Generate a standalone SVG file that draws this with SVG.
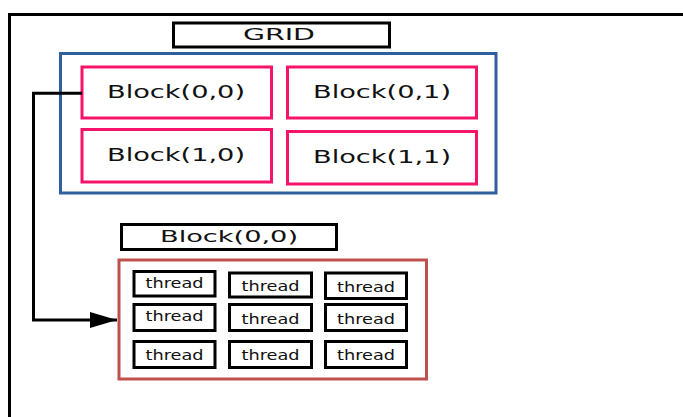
<svg xmlns="http://www.w3.org/2000/svg" width="683" height="417" viewBox="0 0 683 417">
<style>
.t{font-family:"DejaVu Sans","Liberation Sans",sans-serif;fill:#111;text-anchor:middle}
.blk{fill:#fff;stroke:#f5146a;stroke-width:3}
.thr{fill:#fff;stroke:#000;stroke-width:3}
.lbl{fill:#fff;stroke:#000;stroke-width:3}
</style>
<defs>
<marker id="arr" markerUnits="userSpaceOnUse" markerWidth="28" markerHeight="18" refX="27" refY="8" orient="auto">
<path d="M0,0 L27,8 L0,16 z" fill="#000"/>
</marker>
</defs>
<rect width="683" height="417" fill="#fff"/>
<path d="M9.5,417 V14.5 H683" fill="none" stroke="#000" stroke-width="3"/>
<g id="grid-label">
<rect class="lbl" x="173.5" y="23" width="216" height="24"/>
<text class="t" x="279" y="40" font-size="16" textLength="72" lengthAdjust="spacingAndGlyphs">GRID</text>
</g>
<g id="grid">
<rect x="60.5" y="53.5" width="435.5" height="139.5" fill="none" stroke="#2f5f9f" stroke-width="3"/>
</g>
<g id="block00">
<rect class="blk" x="82" y="67" width="189.5" height="51"/>
<text class="t" x="176" y="97.7" font-size="17" textLength="138" lengthAdjust="spacingAndGlyphs">Block(0,0)</text>
</g>
<g id="block01">
<rect class="blk" x="287.5" y="67" width="189" height="51"/>
<text class="t" x="382" y="97.7" font-size="17" textLength="138" lengthAdjust="spacingAndGlyphs">Block(0,1)</text>
</g>
<g id="block10">
<rect class="blk" x="82" y="129.5" width="189.5" height="52.5"/>
<text class="t" x="176" y="161" font-size="17" textLength="138" lengthAdjust="spacingAndGlyphs">Block(1,0)</text>
</g>
<g id="block11">
<rect class="blk" x="287.5" y="131.5" width="189" height="52.5"/>
<text class="t" x="382" y="163" font-size="17" textLength="138" lengthAdjust="spacingAndGlyphs">Block(1,1)</text>
</g>
<g id="block-label">
<rect class="lbl" x="121.5" y="224.5" width="215" height="25"/>
<text class="t" x="229" y="241.7" font-size="16" textLength="138" lengthAdjust="spacingAndGlyphs">Block(0,0)</text>
</g>
<g id="block-detail">
<rect x="119" y="260" width="307.5" height="119" fill="none" stroke="#c0504d" stroke-width="3"/>
</g>
<g id="threads">
<g id="t11"><rect class="thr" x="134" y="271.5" width="81" height="24.5"/><text class="t" x="174.5" y="288.3" font-size="13.5" textLength="58" lengthAdjust="spacingAndGlyphs">thread</text></g>
<g id="t12"><rect class="thr" x="229.5" y="273" width="82" height="24"/><text class="t" x="270.5" y="291" font-size="13.5" textLength="58" lengthAdjust="spacingAndGlyphs">thread</text></g>
<g id="t13"><rect class="thr" x="325.5" y="273" width="81" height="25.5"/><text class="t" x="366" y="292.3" font-size="13.5" textLength="58" lengthAdjust="spacingAndGlyphs">thread</text></g>
<g id="t21"><rect class="thr" x="134" y="304.5" width="81" height="26"/><text class="t" x="174.5" y="321" font-size="13.5" textLength="58" lengthAdjust="spacingAndGlyphs">thread</text></g>
<g id="t22"><rect class="thr" x="229.5" y="304.5" width="82" height="26"/><text class="t" x="270.5" y="324.3" font-size="13.5" textLength="58" lengthAdjust="spacingAndGlyphs">thread</text></g>
<g id="t23"><rect class="thr" x="325.5" y="304.5" width="81" height="26"/><text class="t" x="366" y="324.3" font-size="13.5" textLength="58" lengthAdjust="spacingAndGlyphs">thread</text></g>
<g id="t31"><rect class="thr" x="134" y="341.5" width="81" height="26"/><text class="t" x="174.5" y="360" font-size="13.5" textLength="58" lengthAdjust="spacingAndGlyphs">thread</text></g>
<g id="t32"><rect class="thr" x="229.5" y="341.5" width="82" height="26"/><text class="t" x="270.5" y="360" font-size="13.5" textLength="58" lengthAdjust="spacingAndGlyphs">thread</text></g>
<g id="t33"><rect class="thr" x="325.5" y="341.5" width="81" height="26"/><text class="t" x="366" y="360" font-size="13.5" textLength="58" lengthAdjust="spacingAndGlyphs">thread</text></g>
</g>
<g id="connectors">
<path d="M82,93.3 H33.5 V320 H117" fill="none" stroke="#000" stroke-width="3" marker-end="url(#arr)"/>
</g>
</svg>
